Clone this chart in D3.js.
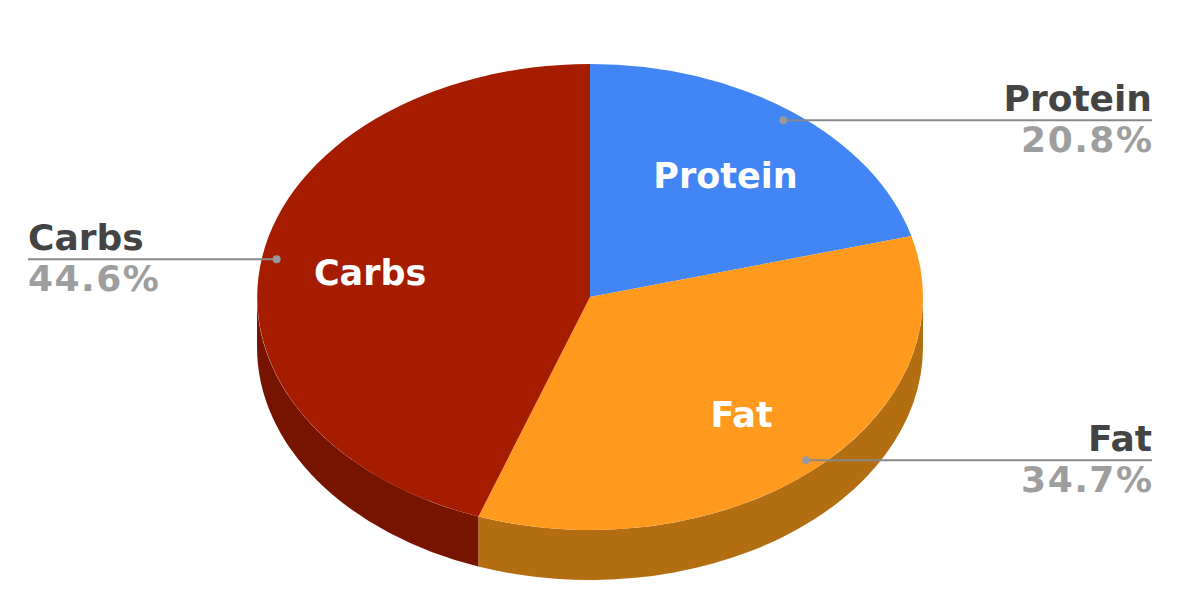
<!DOCTYPE html>
<html lang="en">
<head>
    <meta charset="UTF-8">
    <title>Macros 3D Pie</title>
    <style>
        body {
            margin: 0;
            padding: 0;
            background-color: #fff;
        }
        svg text {
            font-family: "DejaVu Sans", Verdana, sans-serif;
            font-weight: bold;
        }
        .inner-label {
            fill: #fff;
            font-size: 35px;
        }
        .name-label {
            fill: #444;
            font-size: 36px;
        }
        .pct-label {
            fill: #9e9e9e;
            font-size: 36px;
            letter-spacing: 1.5px;
        }
        .leader {
            stroke: #888;
            stroke-width: 2px;
        }
    </style>
</head>
<body>
    <svg id="chart" width="1182" height="612"></svg>

    <script src="https://d3js.org/d3.v7.min.js"></script>
    <script>
        // data
        const categories = ['Protein', 'Fat', 'Carbs'];
        const values = [20.8, 34.7, 44.6];
        const topColors = ['#4285f4', '#ff9a1f', '#a61c00'];
        const sideColors = ['#2a5fb3', '#b36e12', '#771400'];

        const svg = d3.select('#chart');
        const cx = 590, cy = 297, rx = 333, ry = 233, depth = 50;

        const pie = d3.pie().sort(null).value(d => d)
            .startAngle(0).endAngle(2 * Math.PI);
        const slices = pie(values);

        // point on ellipse, angle clockwise from 12 o'clock
        function pt(a, f = 1, dy = 0) {
            return [cx + rx * f * Math.sin(a), cy - ry * f * Math.cos(a) + dy];
        }

        // side walls (only the front half is visible)
        const front0 = Math.PI / 2, front1 = 3 * Math.PI / 2;
        svg.append('g').selectAll('path')
            .data(slices.filter(d => d.endAngle > front0 && d.startAngle < front1))
            .enter().append('path')
            .attr('fill', d => sideColors[d.index])
            .attr('d', d => {
                const a0 = Math.max(d.startAngle, front0);
                const a1 = Math.min(d.endAngle, front1);
                const p0 = pt(a0), p1 = pt(a1);
                const q0 = pt(a0, 1, depth), q1 = pt(a1, 1, depth);
                return `M${p0} A${rx},${ry} 0 0 1 ${p1} L${q1} A${rx},${ry} 0 0 0 ${q0} Z`;
            });

        // top face: unit arcs scaled into an ellipse
        const arc = d3.arc().innerRadius(0).outerRadius(1);
        svg.append('g')
            .attr('transform', `translate(${cx},${cy}) scale(${rx},${ry})`)
            .selectAll('path')
            .data(slices)
            .enter().append('path')
            .attr('fill', d => topColors[d.index])
            .attr('d', arc);

        // labels inside slices
        svg.append('g').selectAll('text')
            .data(slices)
            .enter().append('text')
            .attr('class', 'inner-label')
            .attr('text-anchor', 'middle')
            .attr('dominant-baseline', 'central')
            .attr('x', d => pt((d.startAngle + d.endAngle) / 2, 0.67)[0])
            .attr('y', d => pt((d.startAngle + d.endAngle) / 2, 0.67)[1] + 3)
            .text(d => categories[d.index]);

        // outside labels with leader lines
        const leftX = 28, rightX = 1152;
        const outer = svg.append('g').selectAll('g')
            .data(slices)
            .enter().append('g');

        outer.each(function(d) {
            const g = d3.select(this);
            const mid = (d.startAngle + d.endAngle) / 2;
            const p = pt(mid, 0.955);
            const right = Math.sin(mid) > 0;
            const ex = right ? rightX : leftX;
            const anchor = right ? 'end' : 'start';

            g.append('line')
                .attr('class', 'leader')
                .attr('x1', p[0]).attr('y1', p[1])
                .attr('x2', ex).attr('y2', p[1]);

            g.append('circle')
                .attr('cx', p[0]).attr('cy', p[1])
                .attr('r', 4)
                .attr('fill', '#999');

            g.append('text')
                .attr('class', 'name-label')
                .attr('text-anchor', anchor)
                .attr('x', ex).attr('y', p[1] - 9)
                .text(categories[d.index]);

            g.append('text')
                .attr('class', 'pct-label')
                .attr('text-anchor', anchor)
                .attr('x', right ? ex + 1.5 : ex)
                .attr('y', p[1] + 32)
                .text(values[d.index].toFixed(1) + '%');
        });
    </script>
</body>
</html>
